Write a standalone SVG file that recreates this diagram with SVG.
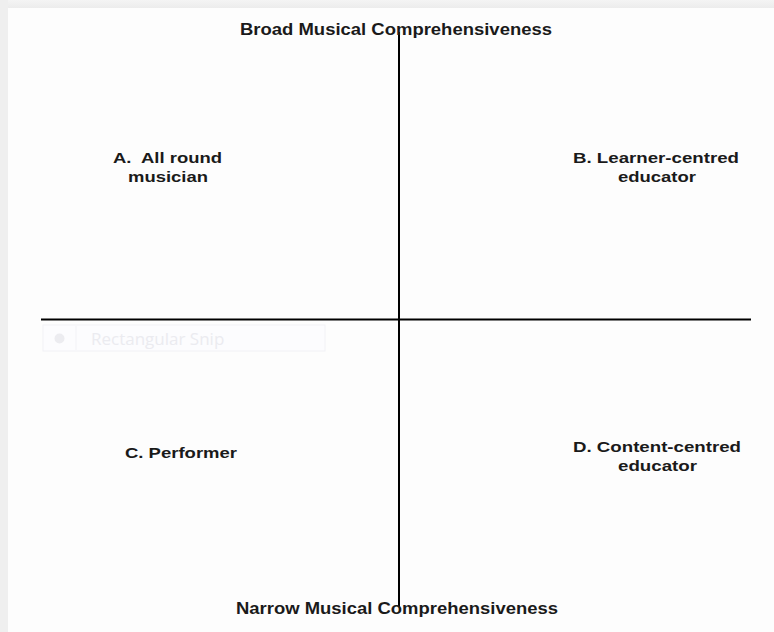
<svg xmlns="http://www.w3.org/2000/svg" width="774" height="632" viewBox="0 0 774 632">
<defs>
<linearGradient id="topg" x1="0" y1="0" x2="0" y2="1"><stop offset="0" stop-color="#f4f4f4"/><stop offset="1" stop-color="#ececec"/></linearGradient>
</defs>
<style>
.t{font-family:"Liberation Sans",Arial,sans-serif;font-weight:bold;fill:#1a1a1a;text-anchor:middle}
.ax{font-size:17px}
.lb{font-size:15px}
.ln{stroke:#000;stroke-width:2;fill:none}
.snip{font-family:"Open Sans","Noto Sans",sans-serif;font-size:17px;fill:#ebebf0}
</style>
<rect width="774" height="632" fill="#fdfdfd"/>
<rect x="0" y="0" width="774" height="8" fill="url(#topg)"/>
<rect x="0" y="0" width="8" height="632" fill="#efefef"/>
<g id="connectors">
<line class="ln" x1="399" y1="32" x2="399" y2="607"/>
<line class="ln" x1="41" y1="319.5" x2="751" y2="319.5"/>
</g>
<g id="top-axis"><text class="t ax" x="396" y="35" textLength="312" lengthAdjust="spacingAndGlyphs">Broad Musical Comprehensiveness</text></g>
<g id="bottom-axis"><text class="t ax" x="397" y="614" textLength="322" lengthAdjust="spacingAndGlyphs">Narrow Musical Comprehensiveness</text></g>
<g id="A"><text class="t lb" x="167.5" y="163" textLength="109" lengthAdjust="spacingAndGlyphs" xml:space="preserve">A.  All round</text><text class="t lb" x="168" y="182" textLength="80" lengthAdjust="spacingAndGlyphs">musician</text></g>
<g id="B"><text class="t lb" x="656" y="163" textLength="166" lengthAdjust="spacingAndGlyphs">B. Learner-centred</text><text class="t lb" x="657" y="182" textLength="78" lengthAdjust="spacingAndGlyphs">educator</text></g>
<g id="C"><text class="t lb" x="181" y="458" textLength="112" lengthAdjust="spacingAndGlyphs">C. Performer</text></g>
<g id="D"><text class="t lb" x="657" y="452" textLength="168" lengthAdjust="spacingAndGlyphs">D. Content-centred</text><text class="t lb" x="657.5" y="471" textLength="79" lengthAdjust="spacingAndGlyphs">educator</text></g>
<g id="snip">
<rect x="43" y="325" width="282" height="26" fill="#fcfcfe" stroke="#f2f2f6" stroke-width="1"/>
<line x1="76" y1="326" x2="76" y2="350" stroke="#f2f2f6"/>
<circle cx="59.5" cy="338.5" r="5" fill="#ececf0"/>
<text class="snip" x="91" y="345">Rectangular Snip</text>
</g>
</svg>
